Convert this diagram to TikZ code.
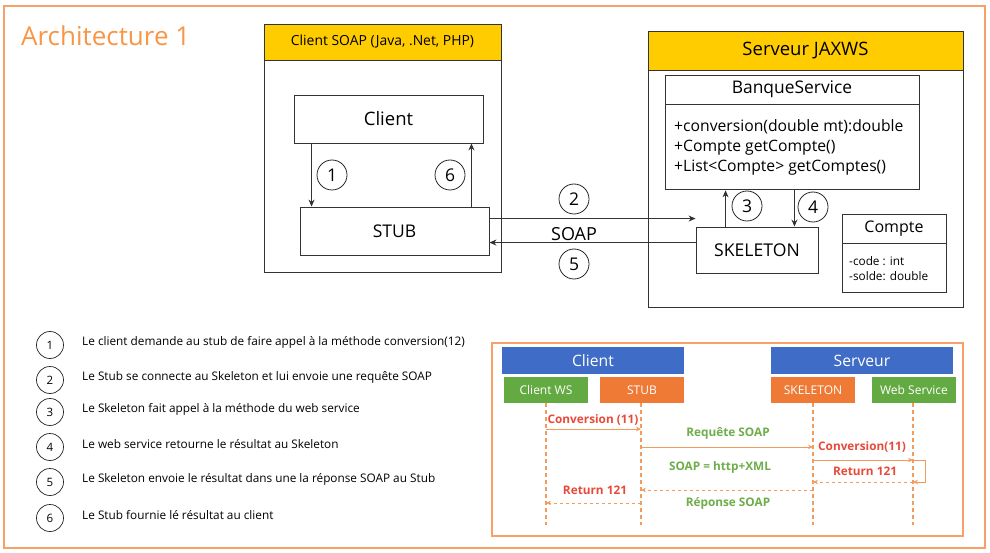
\documentclass[tikz,border=0pt]{standalone}
\usepackage{fontspec}
\setmainfont{Open Sans}
\usetikzlibrary{arrows.meta,positioning}
\definecolor{frameor}{HTML}{F7A068}
\definecolor{titleor}{HTML}{F79646}
\definecolor{hdryel}{HTML}{FFCC00}
\definecolor{seqblue}{HTML}{3F6CC6}
\definecolor{seqgreen}{HTML}{64AA42}
\definecolor{seqor}{HTML}{EE7A35}
\definecolor{lineor}{HTML}{F29B5C}
\definecolor{redtxt}{HTML}{E8493A}
\definecolor{greentxt}{HTML}{6EAD4A}
\newcommand{\fs}[1]{\fontsize{#1}{#1}\selectfont}
\tikzset{
  bx/.style={draw=black!80, line width=0.9pt, inner sep=0pt},
  hdr/.style={bx, fill=hdryel},
  num/.style={circle, draw=black!85, line width=0.8pt, minimum size=30pt, inner sep=0pt, font=\fs{17.5}},
  lnum/.style={circle, draw=black!85, line width=0.7pt, minimum size=27pt, inner sep=0pt, font=\fs{11.5}},
  arr/.style={-{Stealth[length=7pt,width=6pt]}, draw=black!80, line width=0.8pt},
  ltxt/.style={anchor=west, inner sep=0pt, font=\fs{11.8}},
  sqhead/.style={fill=seqblue, text=white, minimum width=182pt, minimum height=27pt, inner sep=0pt, font=\fs{15.7}},
  sqbox/.style={text=white, minimum width=84pt, minimum height=26pt, inner sep=0pt, font=\fs{12}},
  life/.style={draw=lineor, line width=1.1pt, dash pattern=on 4pt off 3pt},
  msg/.style={draw=lineor, line width=1pt, -{Stealth[length=5pt,width=4.5pt]}},
  rmsg/.style={msg, dash pattern=on 3.5pt off 2.5pt},
  rlab/.style={text=redtxt, font=\bfseries\fs{11.8}, inner sep=0pt},
  glab/.style={text=greentxt, font=\bfseries\fs{11.8}, inner sep=0pt},
}
\begin{document}
\begin{tikzpicture}[x=1pt,y=-1pt]
\useasboundingbox (0,0) rectangle (990,553);
% outer frame
\draw[frameor, line width=1.2pt] (4,6) rectangle (985,548);
\node[anchor=base west, inner sep=0pt, text=titleor, font=\fs{26}] (title) at (21,46) {Architecture 1};

% ---- Client SOAP container
\node[bx, minimum width=237pt, minimum height=248pt] (csoap) at (382.5,148) {};
\node[hdr, anchor=north, minimum width=237pt, minimum height=36pt, font=\fs{13.9}] (csoaph) at (csoap.north) {Client SOAP (Java, .Net, PHP)};
\node[bx, minimum width=189pt, minimum height=48pt, font=\fs{18.5}] (client) at (388.5,119) {Client};
\node[bx, minimum width=189pt, minimum height=48pt, font=\fs{17.5}] (stub) at (394.5,231) {STUB};
\coordinate (a1s) at ([xshift=18pt]client.south west);
\draw[arr] (a1s) -- (a1s |- stub.north);
\coordinate (a6s) at ([xshift=-18pt]stub.north east);
\draw[arr] (a6s) -- (a6s |- client.south);
\node[num] (n1) at (332,175) {1};
\node[num] (n6) at (450,175) {6};

% ---- Serveur JAXWS container
\node[bx, minimum width=315pt, minimum height=276pt] (server) at (805.5,169) {};
\node[hdr, anchor=north, minimum width=315pt, minimum height=39pt, font=\fs{18.5}] (serverh) at (server.north) {Serveur JAXWS};
\node[bx, minimum width=254pt, minimum height=29pt, font=\fs{17.4}] (banqueT) at (792,89.5) {BanqueService};
\node[bx, anchor=north, minimum width=254pt, minimum height=85pt] (banqueB) at (banqueT.south) {};
\node[anchor=north west, inner sep=0pt, align=left, font=\fontsize{15.7}{20}\selectfont] (methods) at (674,119)
  {+conversion(double mt):double\\+Compte getCompte()\\+List<Compte> getComptes()};
\node[bx, minimum width=122pt, minimum height=46pt, font=\fs{17.6}] (skel) at (757,250) {SKELETON};
\node[bx, minimum width=104pt, minimum height=29pt, font=\fs{16}] (compteT) at (894,228.5) {Compte};
\node[bx, anchor=north, minimum width=104pt, minimum height=49pt] (compteB) at (compteT.south) {};
\node[anchor=north west, inner sep=0pt, align=left, font=\fontsize{11.8}{15}\selectfont] (attrs) at (849,256)
  {-code : int\\-solde: double};
\coordinate (a3s) at ([xshift=30pt]skel.north west);
\draw[arr] (a3s) -- (a3s |- banqueB.south);
\coordinate (a4s) at ([xshift=-24pt]skel.north east);
\draw[arr] (a4s |- banqueB.south) -- (a4s);
\node[num] (n3) at (747,206) {3};
\node[num] (n4) at (813,207) {4};

% ---- SOAP link
\coordinate (a2s) at ([yshift=-12pt]stub.north east);
\draw[arr] (a2s) -- (skel.west |- a2s);
\coordinate (a5s) at ([yshift=-16pt]skel.north west);
\draw[arr] (a5s) -- (stub.east |- a5s);
\node[num] (n2) at (574,199) {2};
\node[inner sep=0pt, font=\fs{18}] (soap) at (574,234) {SOAP};
\node[num] (n5) at (574,264) {5};

% ---- legend list
\node[lnum] (l1) at (50,345) {1};
\node[lnum] (l2) at (50,380) {2};
\node[lnum] (l3) at (50,412) {3};
\node[lnum] (l4) at (50,447) {4};
\node[lnum] (l5) at (50,482) {5};
\node[lnum] (l6) at (50,518) {6};
\node[ltxt] (t1) at (82,342) {Le client demande au stub de faire appel à la méthode conversion(12)};
\node[ltxt] (t2) at (82,377) {Le Stub se connecte au Skeleton et lui envoie une requête SOAP};
\node[ltxt] (t3) at (82,409) {Le Skeleton fait appel à la méthode du web service};
\node[ltxt] (t4) at (82,444) {Le web service retourne le résultat au Skeleton};
\node[ltxt] (t5) at (82,479) {Le Skeleton envoie le résultat dans une la réponse SOAP au Stub};
\node[ltxt] (t6) at (82,515) {Le Stub fournie lé résultat au client};

% ---- sequence diagram
\draw[frameor, line width=1.2pt] (492,343) rectangle (963,536);
\node[sqhead] (hc) at (593,360.5) {Client};
\node[sqhead] (hs) at (862,360.5) {Serveur};
\node[sqbox, fill=seqgreen] (cws) at (546,390) {Client WS};
\node[sqbox, fill=seqor] (sstub) at (642,390) {STUB};
\node[sqbox, fill=seqor] (sskel) at (813,390) {SKELETON};
\node[sqbox, fill=seqgreen] (sws) at (914,390) {Web Service};
\coordinate (e1) at (546,525);
\coordinate (e2) at (641,525);
\coordinate (e3) at (813,525);
\coordinate (e4) at (913,525);
\draw[life] (e1 |- cws.south) -- (e1);
\draw[life] (e2 |- sstub.south) -- (e2);
\draw[life] (e3 |- sskel.south) -- (e3);
\draw[life] (e4 |- sws.south) -- (e4);
% messages
\coordinate (y1) at (0,429);
\draw[msg] (e1 |- y1) -- (e2 |- y1);
\node[rlab] (m1) at (593,420) {Conversion (11)};
\coordinate (y2) at (0,447);
\draw[msg] (e2 |- y2) -- (e3 |- y2);
\node[glab] (m2) at (728,433) {Requête SOAP};
\coordinate (y3) at (0,460);
\draw[msg] (e3 |- y3) -- (e4 |- y3);
\node[rlab] (m3) at (862,447) {Conversion(11)};
\coordinate (y4) at (0,482);
\draw[msg] (e4 |- y3) -- ++(12,0) -- ++(0,22) -- (e4 |- y4);
\draw[rmsg] (e4 |- y4) -- (e3 |- y4);
\node[rlab] (m4) at (865,471) {Return 121};
\node[glab] (m5) at (720,467) {SOAP = http+XML};
\coordinate (y5) at (0,490);
\draw[rmsg] (e3 |- y5) -- (e2 |- y5);
\node[glab] (m6) at (728,503) {Réponse SOAP};
\coordinate (y6) at (0,503);
\draw[rmsg] (e2 |- y6) -- (e1 |- y6);
\node[rlab] (m7) at (595,490) {Return 121};
\end{tikzpicture}
\end{document}
